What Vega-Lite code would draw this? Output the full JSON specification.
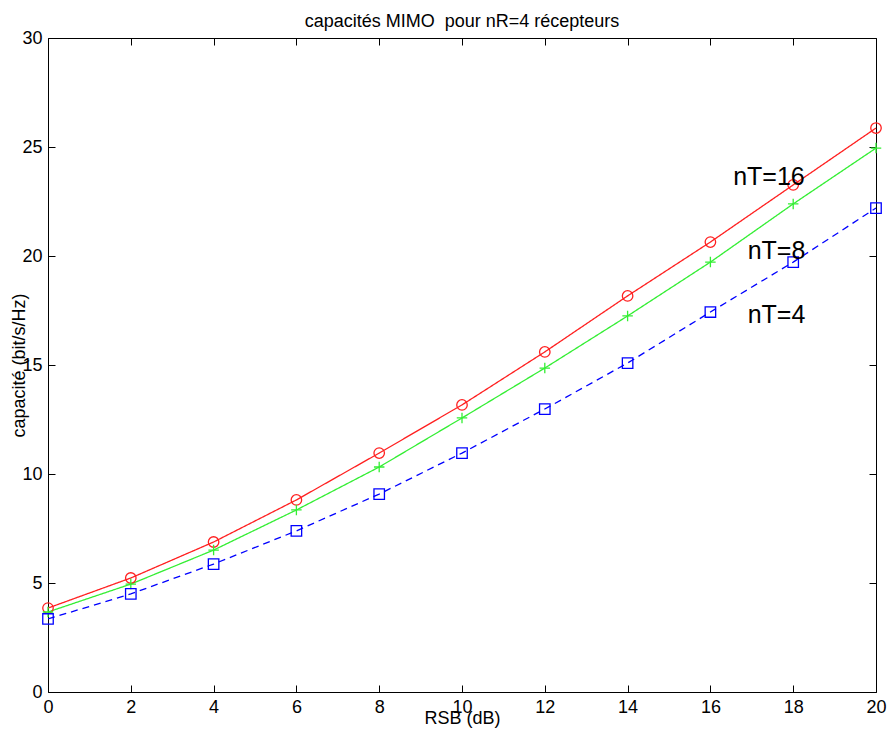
{
  "$schema": "https://vega.github.io/schema/vega-lite/v6.json",
  "width": 828,
  "height": 654,
  "autosize": {"type": "none"},
  "padding": {"left": 48, "top": 38, "right": 12, "bottom": 39},
  "background": "white",
  "title": {"text": "capacités MIMO\u00a0 pour nR=4 récepteurs", "font": "Liberation Sans", "fontSize": 18, "fontWeight": "normal", "color": "black", "offset": -2, "anchor": "middle"},
  "config": {
    "view": {"stroke": null},
    "axis": {"labelFont": "Liberation Sans", "titleFont": "Liberation Sans", "labelColor": "black", "titleColor": "black", "domainColor": "black", "tickColor": "black", "grid": false, "titleFontWeight": "normal"}
  },
  "datasets": {
    "curves": [
      {"snr": 0, "cap": 3.85, "s": "nT=16"}, {"snr": 2, "cap": 5.23, "s": "nT=16"}, {"snr": 4, "cap": 6.88, "s": "nT=16"}, {"snr": 6, "cap": 8.81, "s": "nT=16"}, {"snr": 8, "cap": 10.96, "s": "nT=16"}, {"snr": 10, "cap": 13.17, "s": "nT=16"}, {"snr": 12, "cap": 15.6, "s": "nT=16"}, {"snr": 14, "cap": 18.17, "s": "nT=16"}, {"snr": 16, "cap": 20.64, "s": "nT=16"}, {"snr": 18, "cap": 23.26, "s": "nT=16"}, {"snr": 20, "cap": 25.87, "s": "nT=16"},
      {"snr": 0, "cap": 3.67, "s": "nT=8"}, {"snr": 2, "cap": 4.95, "s": "nT=8"}, {"snr": 4, "cap": 6.51, "s": "nT=8"}, {"snr": 6, "cap": 8.35, "s": "nT=8"}, {"snr": 8, "cap": 10.32, "s": "nT=8"}, {"snr": 10, "cap": 12.57, "s": "nT=8"}, {"snr": 12, "cap": 14.86, "s": "nT=8"}, {"snr": 14, "cap": 17.25, "s": "nT=8"}, {"snr": 16, "cap": 19.72, "s": "nT=8"}, {"snr": 18, "cap": 22.39, "s": "nT=8"}, {"snr": 20, "cap": 24.95, "s": "nT=8"},
      {"snr": 0, "cap": 3.35, "s": "nT=4"}, {"snr": 2, "cap": 4.5, "s": "nT=4"}, {"snr": 4, "cap": 5.87, "s": "nT=4"}, {"snr": 6, "cap": 7.39, "s": "nT=4"}, {"snr": 8, "cap": 9.08, "s": "nT=4"}, {"snr": 10, "cap": 10.96, "s": "nT=4"}, {"snr": 12, "cap": 12.98, "s": "nT=4"}, {"snr": 14, "cap": 15.09, "s": "nT=4"}, {"snr": 16, "cap": 17.43, "s": "nT=4"}, {"snr": 18, "cap": 19.72, "s": "nT=4"}, {"snr": 20, "cap": 22.2, "s": "nT=4"}
    ],
    "labels": [
      {"snr": 16.55, "cap": 23.26, "label": "nT=16"},
      {"snr": 16.9, "cap": 19.86, "label": "nT=8"},
      {"snr": 16.9, "cap": 16.93, "label": "nT=4"}
    ]
  },
  "layer": [
    {
      "data": {"name": "curves"},
      "mark": {"type": "line", "strokeWidth": 1.3},
      "encoding": {
        "x": {"field": "snr", "type": "quantitative", "scale": {"domain": [0, 20], "nice": false, "zero": false},
              "axis": {"orient": "bottom", "values": [0,2,4,6,8,10,12,14,16,18,20], "labelFontSize": 18, "tickSize": -7, "labelPadding": 13, "title": "RSB (dB)", "titleFontSize": 18, "titlePadding": -7, "labelFlush": false}},
        "y": {"field": "cap", "type": "quantitative", "scale": {"domain": [0, 30], "nice": false},
              "axis": {"orient": "left", "values": [0,5,10,15,20,25,30], "labelFontSize": 18, "tickSize": -7, "labelPadding": 13, "title": "capacité (bit/s/Hz)", "titleFontSize": 18, "titlePadding": -7, "labelFlush": false}},
        "color": {"field": "s", "type": "nominal", "scale": {"domain": ["nT=16", "nT=8", "nT=4"], "range": ["#ff2020", "#33ee33", "#0000ff"]}, "legend": null},
        "strokeDash": {"field": "s", "type": "nominal", "scale": {"domain": ["nT=16", "nT=8", "nT=4"], "range": [[1, 0], [1, 0], [7, 5]]}, "legend": null}
      }
    },
    {
      "data": {"name": "curves"},
      "mark": {"type": "point", "filled": false, "strokeWidth": 1.3, "opacity": 1},
      "encoding": {
        "x": {"field": "snr", "type": "quantitative", "axis": null},
        "y": {"field": "cap", "type": "quantitative", "axis": null},
        "color": {"field": "s", "type": "nominal", "legend": null},
        "shape": {"field": "s", "type": "nominal", "scale": {"domain": ["nT=16", "nT=8", "nT=4"], "range": ["circle", "M-1,0L1,0M0,-1L0,1", "square"]}, "legend": null},
        "size": {"field": "s", "type": "nominal", "scale": {"domain": ["nT=16", "nT=8", "nT=4"], "range": [110, 110, 70]}, "legend": null}
      }
    },
    {
      "data": {"name": "labels"},
      "mark": {"type": "text", "align": "left", "baseline": "alphabetic", "font": "Liberation Sans", "fontSize": 25, "color": "black"},
      "encoding": {
        "x": {"field": "snr", "type": "quantitative", "axis": {"orient": "top", "values": [0,2,4,6,8,10,12,14,16,18,20], "labels": false, "tickSize": -7, "title": null}},
        "y": {"field": "cap", "type": "quantitative", "axis": {"orient": "right", "values": [0,5,10,15,20,25,30], "labels": false, "tickSize": -7, "title": null}},
        "text": {"field": "label"}
      }
    }
  ],
  "resolve": {"axis": {"x": "independent", "y": "independent"}}
}
